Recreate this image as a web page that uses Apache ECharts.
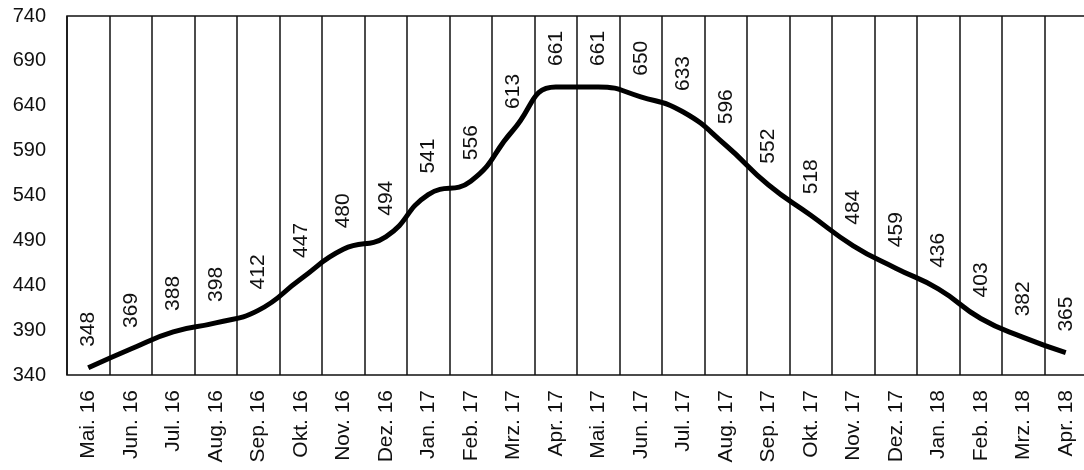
<!DOCTYPE html>
<html>
<head>
<meta charset="utf-8">
<script src="https://cdn.jsdelivr.net/npm/echarts@6/dist/echarts.min.js"></script>
<style>
  html, body { margin: 0; padding: 0; background: #fff; }
  #chart { width: 1084px; height: 470px; }
</style>
</head>
<body>
<div id="chart"></div>
<script>
var months = ['Mai. 16', 'Jun. 16', 'Jul. 16', 'Aug. 16', 'Sep. 16', 'Okt. 16', 'Nov. 16', 'Dez. 16',
    'Jan. 17', 'Feb. 17', 'Mrz. 17', 'Apr. 17', 'Mai. 17', 'Jun. 17', 'Jul. 17', 'Aug. 17',
    'Sep. 17', 'Okt. 17', 'Nov. 17', 'Dez. 17', 'Jan. 18', 'Feb. 18', 'Mrz. 18', 'Apr. 18'];
var values = [348, 369, 388, 398, 412, 447, 480, 494, 541, 556, 613, 661,
    661, 650, 633, 596, 552, 518, 484, 459, 436, 403, 382, 365];
var yTicks = [340, 390, 440, 490, 540, 590, 640, 690, 740];

var font = 'Liberation Sans, Arial, sans-serif';

var myChart = echarts.init(document.getElementById('chart'));
myChart.setOption({
    animation: false,
    grid: {
        left: 67,
        top: 16,
        width: 1020,
        height: 359,
        show: true,
        borderColor: '#111',
        borderWidth: 1.5,
        outerBoundsMode: 'none'
    },
    xAxis: {
        type: 'category',
        data: months,
        boundaryGap: true,
        axisLine: { show: false },
        axisTick: { show: false },
        splitLine: { show: true, lineStyle: { color: '#111', width: 1.5 } },
        axisLabel: {
            interval: 0,
            rotate: 90,
            margin: 15,
            color: '#111',
            fontFamily: font,
            fontSize: 21
        }
    },
    yAxis: {
        type: 'value',
        min: 340,
        max: 740,
        axisLine: { show: false },
        axisTick: { show: false },
        splitLine: { show: false },
        axisLabel: {
            customValues: yTicks,
            margin: 21,
            color: '#111',
            fontFamily: font,
            fontSize: 20
        }
    },
    series: [{
        type: 'line',
        data: values,
        smooth: true,
        symbol: 'circle',
        symbolSize: 0,
        showSymbol: true,
        itemStyle: { color: '#000' },
        lineStyle: { color: '#000', width: 5 },
        label: {
            show: true,
            position: 'top',
            distance: 21,
            rotate: 90,
            align: 'left',
            verticalAlign: 'middle',
            color: '#111',
            fontFamily: font,
            fontSize: 21
        }
    }]
});
</script>
</body>
</html>
